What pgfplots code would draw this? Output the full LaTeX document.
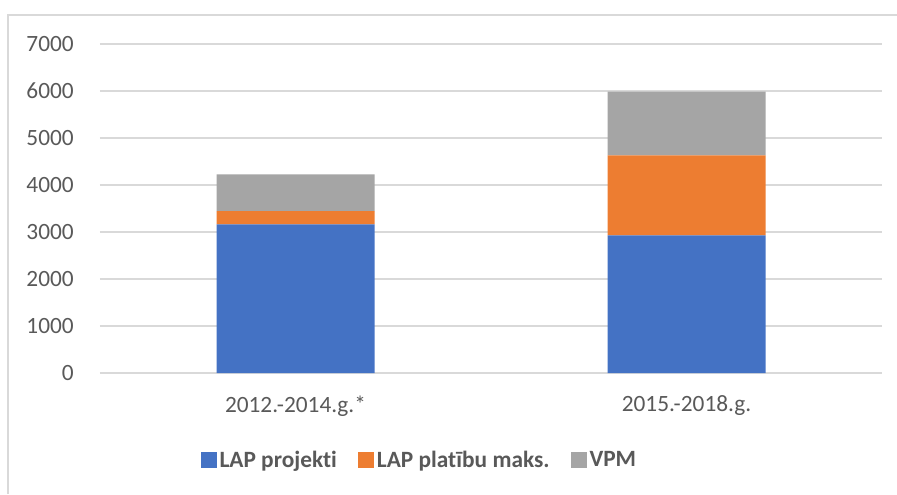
\documentclass[border=0pt]{standalone}
\usepackage{fontspec}
\setmainfont{Carlito}[RawFeature=-liga]
\usepackage{pgfplots}
\pgfplotsset{compat=1.18}
\definecolor{cblue}{HTML}{4472C4}
\definecolor{corange}{HTML}{ED7D31}
\definecolor{cgray}{HTML}{A5A5A5}
\definecolor{gridgray}{HTML}{D9D9D9}
\definecolor{txtgray}{HTML}{595959}
\begin{document}
\begin{tikzpicture}
\useasboundingbox (0,0) rectangle (672.75pt,370.5pt);
\draw[gridgray, line width=1.2pt] (6pt,0) -- (6pt,359.25pt) -- (672.75pt,359.25pt);
\begin{axis}[
    at={(75pt,90.75pt)}, anchor=south west,
    scale only axis, width=586.5pt, height=246.75pt,
    ybar stacked, bar width=118.5pt,
    xmin=-0.5, xmax=1.5, ymin=0, ymax=7000,
    xtick={0,1}, xticklabels={2012.-2014.g.*, 2015.-2018.g.},
    ytick={0,1000,...,7000},
    ymajorgrids, grid style={gridgray, line width=0.9pt},
    axis line style={draw=none}, major tick length=0pt,
    /pgf/number format/assume math mode=true,
    /pgf/number format/set thousands separator={},
    tick label style={font=\fontsize{17.5}{20}\selectfont, text=txtgray},
    yticklabel style={inner sep=0pt, xshift=-19.5pt},
    xticklabel style={inner sep=0pt, yshift=-17pt},
    legend style={at={(0.409,-0.264)}, anchor=center, draw=none,
        legend columns=3, font=\fontsize{17.5}{20}\selectfont\bfseries,
        text=txtgray, /tikz/every even column/.append style={column sep=14pt}},
    legend image code/.code={\fill[#1] (1pt,-6pt) rectangle (13pt,6pt);},
]
\addplot[fill=cblue, draw=none] coordinates {(0,3163) (1,2930)};
\addlegendentry{LAP projekti}
\addplot[fill=corange, draw=none] coordinates {(0,281) (1,1701)};
\addlegendentry{LAP platību maks.}
\addplot[fill=cgray, draw=none] coordinates {(0,782) (1,1354)};
\addlegendentry{VPM}
\end{axis}
\end{tikzpicture}
\end{document}
